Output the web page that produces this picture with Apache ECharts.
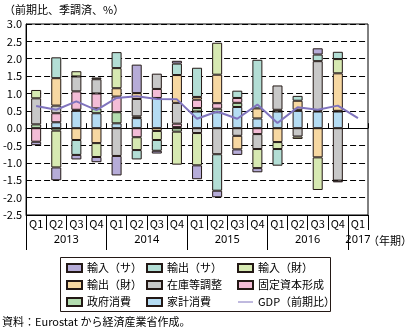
<!DOCTYPE html>
<html><head><meta charset="utf-8">
<script src="https://cdn.jsdelivr.net/npm/echarts@6/dist/echarts.min.js"></script>
<style>html,body{margin:0;padding:0;background:#fff}#c{width:406px;height:331px}</style>
</head><body><div id="c"></div>
<script>
var periods = ['2013Q1','2013Q2','2013Q3','2013Q4','2014Q1','2014Q2','2014Q3','2014Q4','2015Q1','2015Q2','2015Q3','2015Q4','2016Q1','2016Q2','2016Q3','2016Q4','2017Q1'];
var quarterLabels = ['Q1','Q2','Q3','Q4','Q1','Q2','Q3','Q4','Q1','Q2','Q3','Q4','Q1','Q2','Q3','Q4','Q1'];
var years = ['2013','2014','2015','2016','2017'];
var yTicks = [-2.5,-2.0,-1.5,-1.0,-0.5,0.0,0.5,1.0,1.5,2.0,2.5,3.0];

var household = [null,0.17,0.5,0.43,0.14,0.29,0.87,0.03,0.48,0.46,0.61,0.28,0.48,0.5,0.48,0.48,null];
var government = [0.11,-0.07,0.03,0.14,0.32,0.05,null,-0.1,0.1,0.1,0.12,null,0.05,0.03,0.03,0.02,null];
var fixedCapital = [-0.39,0.26,0.53,0.43,0.45,-0.26,0.26,0.1,0.24,0.16,0.14,-0.17,null,null,null,null,null];
var inventory = [0.75,0.22,0.43,0.41,-0.8,0.5,0.44,0.6,-0.14,-0.75,-0.22,-0.43,0.7,-0.24,1.42,-1.51,null];
var exportGoods = [null,0.79,-0.34,-0.43,0.24,0.17,-0.08,0.8,0.08,0.82,-0.39,0.29,-0.4,0.26,-0.84,1.08,null];
var importGoods = [0.24,-1.06,0.15,-0.4,0.58,-0.37,-0.26,-0.95,-0.93,0.92,null,-0.55,-0.2,-0.07,-0.94,0.41,null];
var exportServices = [null,0.6,-0.43,0.05,0.46,-0.27,-0.31,0.33,0.84,-1.05,0.21,1.4,-0.48,0.14,0.19,0.21,null];
var importServices = [-0.1,-0.37,-0.13,-0.15,-0.56,0.82,-0.08,0.08,-0.4,-0.19,-0.16,-0.12,null,null,0.18,-0.05,null];
var gdp = [0.64,0.53,0.77,0.52,0.87,0.92,0.84,0.83,0.27,0.48,0.27,0.68,0.15,0.6,0.53,0.65,0.29];

// derive year boundaries and year-label centres from the period list
var yearStart = [], yearCenter = [];
years.forEach(function (y) {
  var first = -1, last = -1;
  periods.forEach(function (p, i) { if (p.indexOf(y) === 0) { if (first < 0) first = i; last = i; } });
  yearStart.push(first);
  yearCenter.push((first + last + 1) / 2);
});

var FONT = 'Noto Sans CJK JP';
var EDGE = '#231815';
function barSeries(name, data, color) {
  return {name: name, type: 'bar', stack: 'all', data: data, barWidth: 10, xAxisIndex: 0,
    itemStyle: {color: color, borderColor: EDGE, borderWidth: 1}};
}
function rectItem(n) { return {name: n, icon: 'rect'}; }
var chart = echarts.init(document.getElementById('c'), null, {renderer: 'canvas'});
var legendBase = {orient: 'vertical', padding: 0, itemGap: 5, itemWidth: 15, itemHeight: 8,
  lineStyle: {width: 1},
  textStyle: {fontFamily: FONT, fontSize: 11, color: '#000', lineHeight: 12}};
chart.setOption({
  animation: false,
  textStyle: {fontFamily: FONT},
  grid: {left: 26, right: 38, top: 24, bottom: 116, show: true, borderColor: '#000', borderWidth: 1, containLabel: false},
  legend: [
    Object.assign({}, legendBase, {left: 66, top: 262, data: [rectItem('輸入（サ）'), rectItem('輸出（財）'), rectItem('政府消費')]}),
    Object.assign({}, legendBase, {left: 146, top: 262, data: [rectItem('輸出（サ）'), rectItem('在庫等調整'), rectItem('家計消費')]}),
    Object.assign({}, legendBase, {left: 237, top: 262, data: [rectItem('輸入（財）'), rectItem('固定資本形成'),
      {name: 'GDP（前期比）', lineStyle: {width: 1}, itemStyle: {color: 'rgba(0,0,0,0)', borderColor: 'rgba(0,0,0,0)', borderWidth: 0}}]})
  ],
  xAxis: [
    {type: 'category', data: periods, gridIndex: 0, position: 'bottom',
      axisLine: {onZero: true, lineStyle: {color: '#000', width: 1}},
      axisTick: {show: true, inside: true, length: 5, interval: 0, lineStyle: {color: '#000'}},
      axisLabel: {show: false}, splitLine: {show: false}},
    {type: 'value', gridIndex: 0, position: 'bottom', min: 0, max: periods.length,
      axisLine: {show: false, onZero: false},
      axisTick: {show: true, length: 35, customValues: yearStart, lineStyle: {color: '#000'}},
      axisLabel: {margin: 19, fontSize: 11, color: '#000', fontFamily: 'Noto Sans',
        customValues: yearCenter,
        formatter: function (v) { return years[yearCenter.indexOf(v)]; }},
      splitLine: {show: false}},
    {type: 'category', data: periods, gridIndex: 0, position: 'bottom',
      axisLine: {onZero: false, lineStyle: {color: '#000'}},
      axisTick: {show: true, length: 15, interval: 0, lineStyle: {color: '#000'}},
      axisLabel: {interval: 0, margin: 3, fontSize: 11, color: '#000', fontFamily: FONT,
        formatter: function (v, i) { return quarterLabels[i]; }},
      splitLine: {show: false}}
  ],
  yAxis: {type: 'value', min: yTicks[0], max: yTicks[yTicks.length - 1], interval: 0.5,
    axisLine: {show: true, lineStyle: {color: '#000'}},
    axisTick: {show: false},
    axisLabel: {margin: 4, fontSize: 11, color: '#000', fontFamily: FONT,
      formatter: function (v) { return v.toFixed(1); }},
    splitLine: {show: true, lineStyle: {color: '#000', type: [6, 3], width: 1}}},
  series: [
    barSeries('家計消費', household, '#b5dcf3'),
    barSeries('政府消費', government, '#b3dcaf'),
    barSeries('固定資本形成', fixedCapital, '#f3bcd6'),
    barSeries('在庫等調整', inventory, '#c8c8c8'),
    barSeries('輸出（財）', exportGoods, '#f7d8a2'),
    barSeries('輸入（財）', importGoods, '#d7e9b2'),
    barSeries('輸出（サ）', exportServices, '#b3ded5'),
    barSeries('輸入（サ）', importServices, '#b6acd8'),
    {name: 'GDP（前期比）', type: 'line', data: gdp, xAxisIndex: 0, symbol: 'none', z: 5,
      lineStyle: {color: '#8074be', width: 2}, itemStyle: {color: '#8074be'}}
  ],
  graphic: [
    {type: 'text', left: 4, top: 4, style: {text: '（前期比、季調済、%）', font: '11px "Noto Sans CJK JP"', fill: '#000'}},
    {type: 'text', left: 368, top: 235, style: {text: '（年期）', font: '11px "Noto Sans CJK JP"', fill: '#000'}},
    {type: 'text', left: 2, top: 316, style: {text: '資料：Eurostat から経済産業省作成。', font: '11px "Noto Sans CJK JP"', fill: '#000'}},
    {type: 'rect', shape: {x: 60.5, y: 257.5, width: 270, height: 54}, style: {fill: 'none', stroke: EDGE, lineWidth: 1}, silent: true}
  ]
});
</script></body></html>
